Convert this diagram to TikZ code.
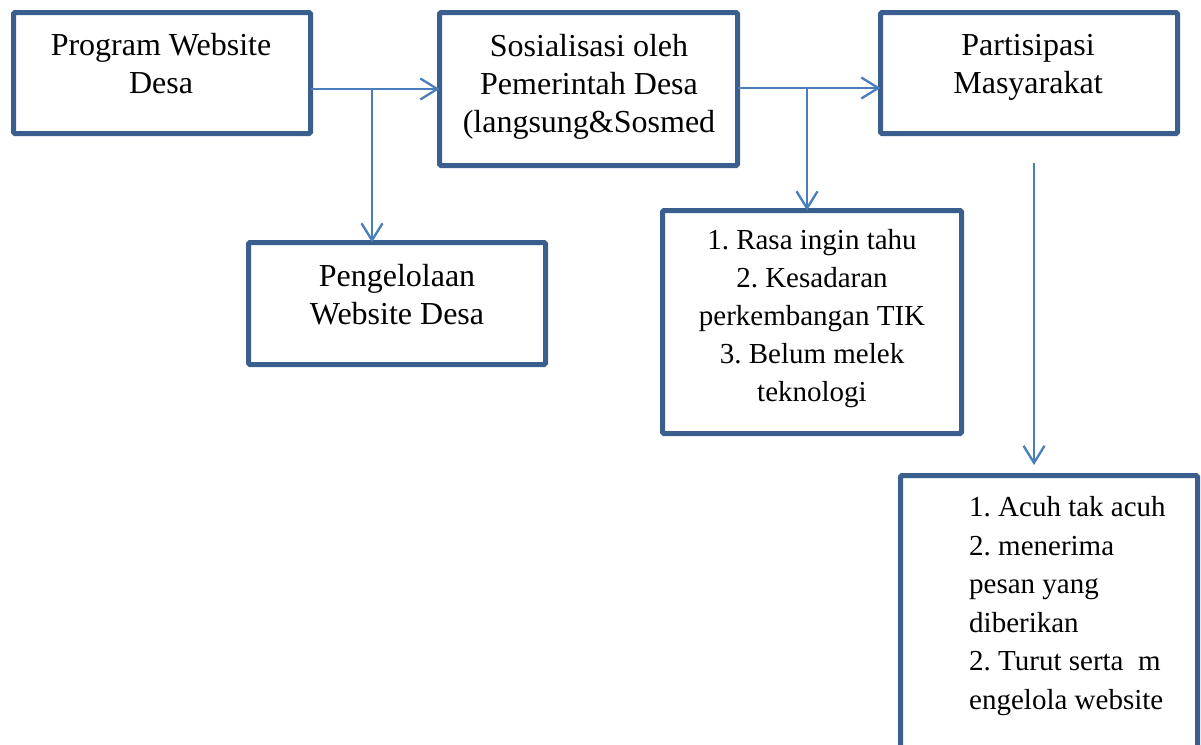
\documentclass[tikz,border=0pt]{standalone}
\usepackage{fontspec}
\setmainfont{Liberation Serif}
\usetikzlibrary{arrows.meta}
\frenchspacing
\definecolor{boxc}{HTML}{3A5E8E}
\definecolor{arrc}{HTML}{4A7EBB}
\tikzset{
  box/.style={draw=boxc, line width=5pt, rounded corners=1.5pt, inner sep=0pt, outer sep=0pt, anchor=north west},
  big/.style={font=\fontsize{32}{38}\selectfont\frenchspacing, align=center, inner sep=0pt},
  small/.style={font=\fontsize{29}{38}\selectfont\frenchspacing, align=center, inner sep=0pt},
  conn/.style={draw=arrc, line width=2.3pt, -{Straight Barb[length=17pt,width=21pt,line width=2.3pt]}},
  plain/.style={draw=arrc, line width=2.3pt}
}
\begin{document}
\begin{tikzpicture}[x=1pt,y=-1pt]
\useasboundingbox (0,0) rectangle (1201,744);
\clip (0,0) rectangle (1201,744);
% boxes
\node[box, minimum width=297pt, minimum height=121pt] (b1) at (13.5,12.5) {};
\node[box, minimum width=298pt, minimum height=153pt] (b2) at (439.5,12.5) {};
\node[box, minimum width=297pt, minimum height=121pt] (b3) at (880.5,12.5) {};
\node[box, minimum width=297pt, minimum height=122pt] (b4) at (248.5,242.5) {};
\node[box, minimum width=299pt, minimum height=223pt] (b5) at (662.5,210.5) {};
\node[box, minimum width=297pt, minimum height=300pt] (b6) at (900.5,475.5) {};
% texts
\node[big] (t1) at (161,64) {Program Website\\Desa};
\node[big] (t2) at (589,87) {Sosialisasi oleh\\Pemerintah Desa\\(langsung\&Sosmed};
\node[big] (t3) at (1028,67) {Partisipasi\\Masyarakat};
\node[big] (t4) at (397,295) {Pengelolaan\\Website Desa};
\node[small] (t5) at (812,319) {1. Rasa ingin tahu\\2. Kesadaran\\perkembangan TIK\\3. Belum melek\\teknologi};
\node[small, align=left, anchor=west, font=\fontsize{29}{38.6}\selectfont\frenchspacing] (t6) at (969,606) {1. Acuh tak acuh\\2. menerima\\pesan yang\\diberikan\\2. Turut serta\ \ m\\engelola website};
% connectors
\coordinate (j1) at (372,89);
\coordinate (j2) at (807,88);
\coordinate (c1) at (1034,163);
\coordinate (c2) at (1034,465);
\draw[conn] (b1.east |- j1) -- (b2.west |- j1);
\draw[conn] (j1) -- (j1 |- b4.north);
\draw[conn] (b2.east |- j2) -- (b3.west |- j2);
\draw[conn] (j2) -- (j2 |- b5.north);
\draw[conn] (c1) -- (c2);
\end{tikzpicture}
\end{document}
